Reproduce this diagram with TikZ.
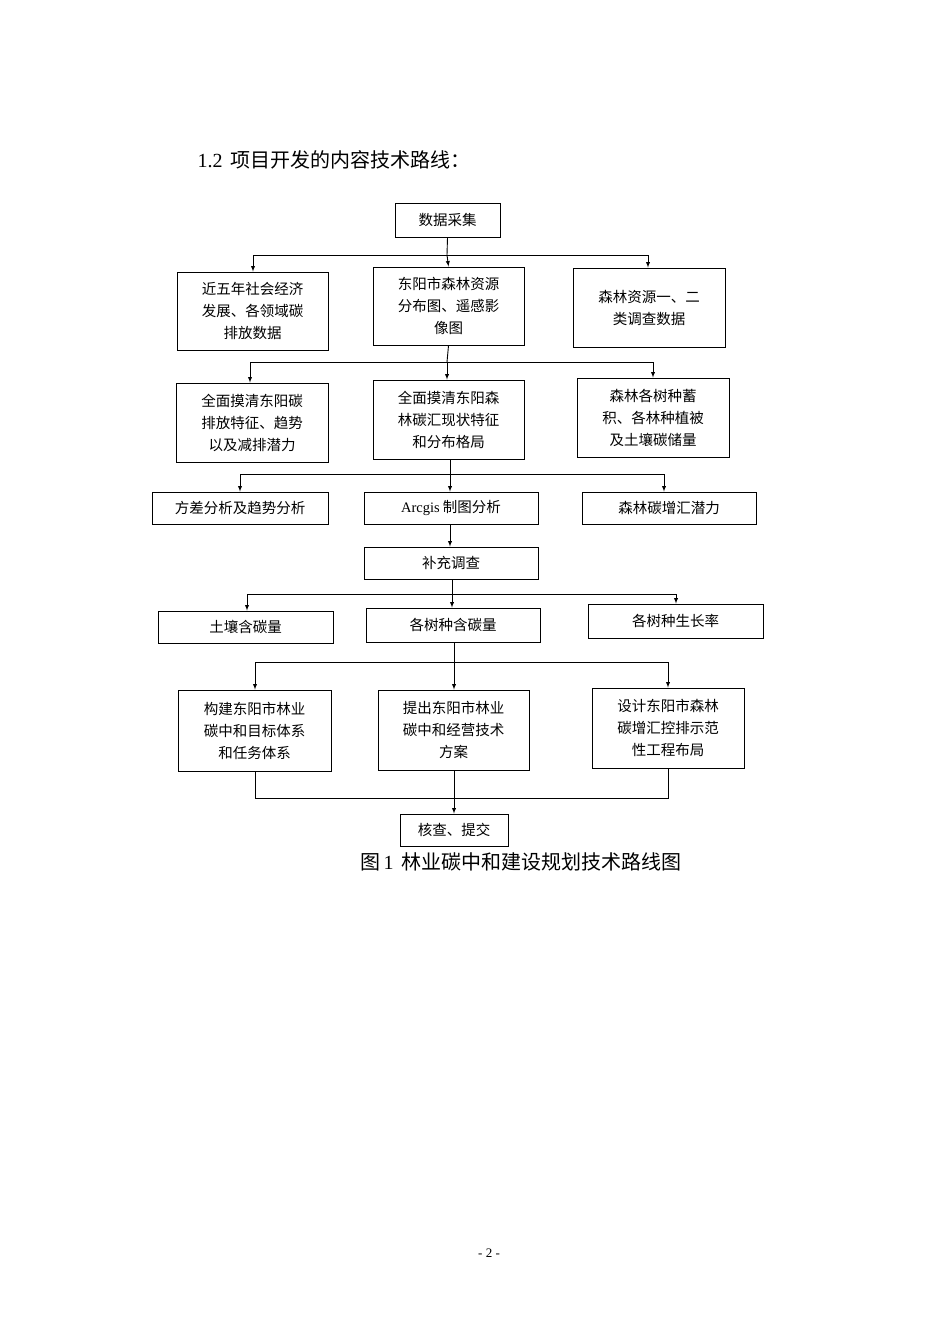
\documentclass[tikz,border=0pt]{standalone}
\usepackage{fontspec}
\setmainfont{Liberation Serif}
\newfontfamily\cjk{Noto Sans CJK SC}
\begin{document}
\begin{tikzpicture}[x=1pt,y=-1pt,
  bx/.style={draw,line width=0.9pt,align=center,font=\fontsize{14.5}{22}\cjk,inner sep=0pt},
  ln/.style={line width=0.9pt},
  ar/.style={line width=0.9pt,-latex}]
\useasboundingbox[fill=white] (0,0) rectangle (950,1343);
\newcommand\bxat[6]{\node[bx,minimum width=#3-#2,minimum height=#5-#4] (#1) at ({(#2+#3)/2},{(#4+#5)/2}) {#6};}
\node[anchor=west,font=\fontsize{20}{24}\selectfont] (h) at (194,160) {1.2\, {\cjk 项目开发的内容技术路线：}};
\bxat{a}{395}{500}{203}{237}{数据采集}
\bxat{b1}{177}{328}{272}{350}{近五年社会经济\\发展、各领域碳\\排放数据}
\bxat{b2}{373}{524}{267}{345}{东阳市森林资源\\分布图、遥感影\\像图}
\bxat{b3}{573}{725}{268}{347}{森林资源一、二\\类调查数据}
\bxat{c1}{176}{328}{383}{462}{全面摸清东阳碳\\排放特征、趋势\\以及减排潜力}
\bxat{c2}{373}{524}{380}{459}{全面摸清东阳森\\林碳汇现状特征\\和分布格局}
\bxat{c3}{577}{729}{378}{457}{森林各树种蓄\\积、各林种植被\\及土壤碳储量}
\bxat{d1}{152}{328}{492}{524}{方差分析及趋势分析}
\bxat{d2}{364}{538}{492}{524}{{\rmfamily Arcgis} 制图分析}
\bxat{d3}{582}{756}{492}{524}{森林碳增汇潜力}
\bxat{e}{364}{538}{547}{579}{补充调查}
\bxat{f1}{158}{333}{611}{643}{土壤含碳量}
\bxat{f2}{366}{540}{608}{642}{各树种含碳量}
\bxat{f3}{588}{763}{604}{638}{各树种生长率}
\bxat{g1}{178}{331}{690}{771}{构建东阳市林业\\碳中和目标体系\\和任务体系}
\bxat{g2}{378}{529}{690}{770}{提出东阳市林业\\碳中和经营技术\\方案}
\bxat{g3}{592}{744}{688}{768}{设计东阳市森林\\碳增汇控排示范\\性工程布局}
\bxat{h2}{400}{508}{814}{846}{核查、提交}
% connectors
\draw[ln] (a.south) -- (447,255) coordinate (j1);
\draw[ar] (253,255) -- (253,272 |- b1.north);
\draw[ar] (j1) -- (b2.north);
\draw[ln] (253,255) -- (648,255);
\draw[ar] (648,255) -- (648,268 |- b3.north);
\draw[ln] (b2.south) -- (447,362) coordinate (j2);
\draw[ln] (250,362) -- (653,362);
\draw[ar] (250,362) -- (250,383 |- c1.north);
\draw[ar] (j2) -- (447,380 |- c2.north);
\draw[ar] (653,362) -- (653,378 |- c3.north);
\draw[ln] (450,459 |- c2.south) -- (450,474) coordinate (j3);
\draw[ln] (240,474) -- (664,474);
\draw[ar] (240,474) -- (240,492 |- d1.north);
\draw[ar] (j3) -- (450,492 |- d2.north);
\draw[ar] (664,474) -- (664,492 |- d3.north);
\draw[ar] (450,524 |- d2.south) -- (450,547 |- e.north);
\draw[ln] (452,579 |- e.south) -- (452,594) coordinate (j4);
\draw[ln] (247,594) -- (676,594);
\draw[ar] (247,594) -- (247,611 |- f1.north);
\draw[ar] (j4) -- (452,608 |- f2.north);
\draw[ar] (676,594) -- (676,604 |- f3.north);
\draw[ln] (454,642 |- f2.south) -- (454,662) coordinate (j5);
\draw[ln] (255,662) -- (668,662);
\draw[ar] (255,662) -- (255,690 |- g1.north);
\draw[ar] (j5) -- (454,690 |- g2.north);
\draw[ar] (668,662) -- (668,688 |- g3.north);
\draw[ln] (255,771 |- g1.south) -- (255,798) -- (668,798) -- (668,768 |- g3.south);
\draw[ar] (454,770 |- g2.south) -- (454,814 |- h2.north);
\node[font=\fontsize{20}{24}\selectfont] (cap) at (521,862) {{\cjk 图}\,1\, {\cjk 林业碳中和建设规划技术路线图}};
\node[font=\fontsize{13}{15}\selectfont] (pg) at (489,1253) {- 2 -};
\end{tikzpicture}
\end{document}
